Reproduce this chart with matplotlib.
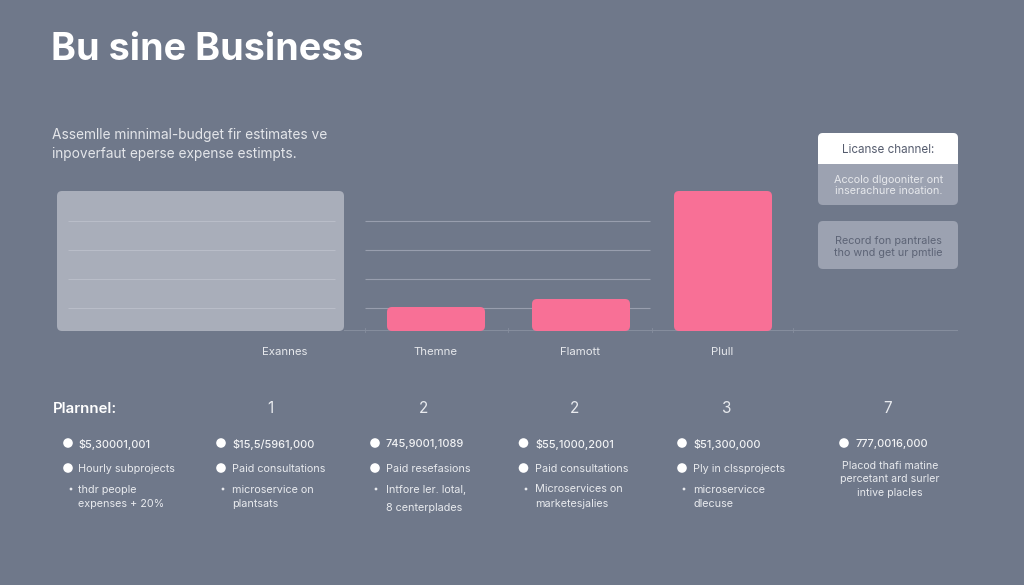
import matplotlib
matplotlib.use("Agg")
import matplotlib.pyplot as plt
from matplotlib.patches import FancyBboxPatch, Circle, PathPatch
from matplotlib.path import Path

plt.rcParams['font.family'] = ['Inter', 'DejaVu Sans']

# ---- data ----
categories = ["Exannes", "Themne", "Flamott", "Plull"]
gray_value = 140
pink_labels = ["Themne", "Flamott", "Plull"]
pink_values = [24, 32, 140]
grid_values = [23, 52, 81, 110]
title = "Bu sine Business"
subtitle = ["Assemlle minnimal-budget fir estimates ve",
            "inpoverfaut eperse expense estimpts."]
header_labels = ["Plarnnel:", "1", "2", "2", "3", "7"]
amounts = ["$5,30001,001", "$15,5/5961,000", "745,9001,1089",
           "$55,1000,2001", "$51,300,000", "777,0016,000"]
items = ["Hourly subprojects", "Paid consultations", "Paid resefasions",
         "Paid consultations", "Ply in clssprojects"]
notes = [["thdr people", "expenses + 20%"],
         ["microservice on", "plantsats"],
         ["Intfore ler. lotal,", "8 centerplades"],
         ["Microservices on", "marketesjalies"],
         ["microservicce", "dlecuse"]]
last_note = ["Placod thafi matine", "percetant ard surler", "intive placles"]
panel_head = "Licanse channel:"
panel_body = ["Accolo dlgooniter ont", "inserachure inoation."]
panel_two = ["Record fon pantrales", "tho wnd get ur pmtlie"]

# ---- layout ----
W, H = 1024, 585
BG = "#6f788a"; PINK = "#f87096"; GRAY = "#a9aeba"; PANEL = "#9ca2b1"
fig = plt.figure(figsize=(W / 100, H / 100), dpi=100, facecolor=BG)

# overlay in pixel coordinates for text and panels
ov = fig.add_axes([0, 0, 1, 1], zorder=2)
ov.set_xlim(0, W); ov.set_ylim(H, 0); ov.axis("off")
ov.patch.set_alpha(0)

def T(x, y, s, **kw):
    """Text with its vertical centre on pixel row y."""
    kw.setdefault("va", "center")
    return ov.text(x, y + 1, s, **kw)

# chart axes: 1 value unit = 1 px, baseline at y=331
ax = fig.add_axes([0, (H - 331) / H, 1, 140 / H], zorder=1)
ax.set_xlim(0, W); ax.set_ylim(0, 140)
ax.axis("off"); ax.patch.set_alpha(0)

def rbar(x0, x1, v, color, r=5, z=3):
    ax.add_patch(FancyBboxPatch((x0, 0), x1 - x0, v,
                 boxstyle=f"round,pad=0,rounding_size={r}",
                 fc=color, ec="none", zorder=z, clip_on=False))

rbar(57, 344, gray_value, GRAY)
for (x0, x1), v in zip([(387, 485), (532, 630), (674, 772)], pink_values):
    rbar(x0, x1, v, PINK)

for g in grid_values:
    ax.plot([68, 335], [g, g], color="#b9bdc8", lw=0.8, zorder=4, solid_capstyle="butt")
    ax.plot([365, 650], [g, g], color="#989eae", lw=0.8, zorder=2, solid_capstyle="butt")
ax.plot([344, 957], [1, 1], color="#868e9e", lw=0.7, zorder=1, clip_on=False)
for tx in [365, 508, 652, 793]:
    ax.plot([tx, tx], [-1, 3], color="#868e9e", lw=0.6, zorder=1, clip_on=False)

for x, lab in zip([285, 435, 580, 722], categories):
    T(x, 351, lab, color="#e6e8ec", fontsize=8.2, ha="center")

# title and intro
T(51, 49.5, title, color="white", fontsize=27.2, fontweight="bold", ha="left")
for y, s in zip([134, 153], subtitle):
    T(52, y, s, color="#e4e6ea", fontsize=9.9, ha="left")

# right panels
def rpanel(x0, y0, x1, y1, color, r=5):
    ov.add_patch(FancyBboxPatch((x0, y0), x1 - x0, y1 - y0,
                 boxstyle=f"round,pad=0,rounding_size={r}", fc=color, ec="none"))

rpanel(818, 133, 958, 205, PANEL)
# white header with rounded top corners only
x0, x1, y0, y1, r = 818, 958, 133, 164, 5
verts = [(x0, y1), (x0, y0 + r), (x0, y0), (x0 + r, y0), (x1 - r, y0), (x1, y0),
         (x1, y0 + r), (x1, y1), (x0, y1)]
codes = [Path.MOVETO, Path.LINETO, Path.CURVE3, Path.CURVE3, Path.LINETO,
         Path.CURVE3, Path.CURVE3, Path.LINETO, Path.CLOSEPOLY]
ov.add_patch(PathPatch(Path(verts, codes), fc="white", ec="none"))
rpanel(818, 221, 958, 269, PANEL)
T(888.5, 149, panel_head, color="#555c6e", fontsize=8.4, ha="center")
for y, s in zip([179, 189.5], panel_body):
    T(888.5, y, s, color="#e6e8ec", fontsize=7.8, ha="center")
for y, s in zip([240, 252], panel_two):
    T(888, y, s, color="#5d6476", fontsize=7.8, ha="center")

# bottom table
TXT = "#e8eaee"
T(53, 408, header_labels[0], color="white", fontsize=10.8, fontweight="semibold", ha="left")
for x, s in zip([270, 424, 575, 727, 888], header_labels[1:]):
    T(x, 407.5, s, color="#e8eaee", fontsize=11, ha="center")

dot_x = [68, 221, 375, 523.5, 682, 844]
txt_x = [78, 232, 386, 535, 693, 855]
small_x = [71, 223, 376, 526, 684]
for dx, tx, s in zip(dot_x, txt_x, amounts):
    ov.add_patch(Circle((dx, 443), 4.8, fc="white", ec="none"))
    T(tx, 443, s, color="#f2f3f5", fontsize=7.9, fontweight="medium", ha="left")
for dx, tx, s in zip(dot_x, txt_x, items):
    ov.add_patch(Circle((dx, 468), 4.8, fc="white", ec="none"))
    T(tx, 468, s, color=TXT, fontsize=7.8, ha="left")
for sx, tx, lines, ys in zip(small_x, txt_x, notes,
                             [(489, 503), (489, 503), (489, 507), (488, 503), (489, 503)]):
    ov.add_patch(Circle((sx, 489), 1.4, fc="#e8eaee", ec="none"))
    for y, s in zip(ys, lines):
        T(tx, y, s, color=TXT, fontsize=7.8, ha="left")
for y, s in zip([465, 478, 491.5], last_note):
    T(890, y, s, color=TXT, fontsize=7.6, ha="center")

fig.savefig("out.png", dpi=100, facecolor=BG)
